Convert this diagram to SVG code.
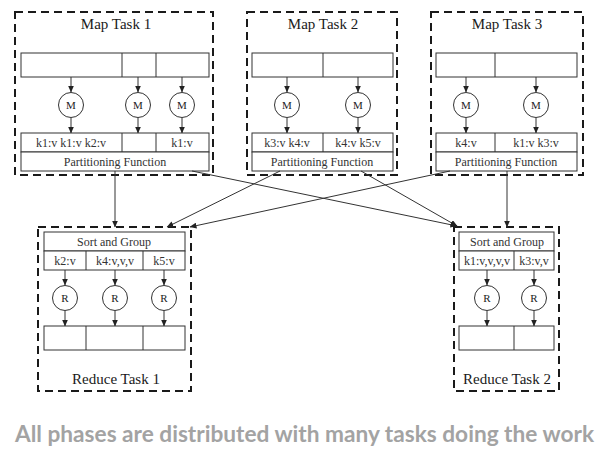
<svg xmlns="http://www.w3.org/2000/svg" width="607" height="455" viewBox="0 0 607 455">
<style>
.dash{fill:none;stroke:#1a1a1a;stroke-width:2;stroke-dasharray:8 5}
.box{fill:#fff;stroke:#333;stroke-width:1}
.ln{fill:none;stroke:#333;stroke-width:1}
.arr{fill:none;stroke:#333;stroke-width:1;marker-end:url(#ah)}
.title{font-family:"Liberation Serif",serif;font-size:15px;fill:#1a1a1a;text-anchor:middle}
.sm{font-family:"Liberation Serif",serif;font-size:12px;fill:#333;text-anchor:middle}
.op{font-family:"Liberation Serif",serif;font-size:11px;fill:#222;text-anchor:middle}
.cap{font-family:Lato,"Open Sans",sans-serif;font-weight:bold;font-size:22px;fill:#a3a3a3}
</style>
<defs>
<marker id="ah" markerWidth="7" markerHeight="6" refX="6.5" refY="3" orient="auto" markerUnits="userSpaceOnUse">
<path d="M0,0 L7,3 L0,6 Z" fill="#222"/>
</marker>
</defs>
<rect width="607" height="455" fill="#fff"/>

<g id="map1">
<rect class="dash" x="15" y="12" width="198" height="163"/>
<text class="title" x="116" y="29">Map Task 1</text>
<rect class="box" x="21" y="53" width="188" height="24"/>
<line class="ln" x1="122" y1="53" x2="122" y2="77"/>
<line class="ln" x1="156" y1="53" x2="156" y2="77"/>
<line class="arr" x1="71" y1="77" x2="71" y2="92"/>
<line class="arr" x1="138" y1="77" x2="138" y2="92"/>
<line class="arr" x1="182" y1="77" x2="182" y2="92"/>
<circle class="box" cx="71" cy="105" r="12.5"/>
<circle class="box" cx="138" cy="105" r="12.5"/>
<circle class="box" cx="182" cy="105" r="12.5"/>
<text class="op" x="71" y="109">M</text>
<text class="op" x="138" y="109">M</text>
<text class="op" x="182" y="109">M</text>
<line class="arr" x1="71" y1="118" x2="71" y2="133"/>
<line class="arr" x1="138" y1="118" x2="138" y2="133"/>
<line class="arr" x1="182" y1="118" x2="182" y2="133"/>
<rect class="box" x="21" y="133" width="188" height="19"/>
<line class="ln" x1="122" y1="133" x2="122" y2="152"/>
<line class="ln" x1="156" y1="133" x2="156" y2="152"/>
<text class="sm" x="71" y="147">k1:v k1:v k2:v</text>
<text class="sm" x="182" y="147">k1:v</text>
<rect class="box" x="21" y="152" width="188" height="19"/>
<text class="sm" x="115" y="166">Partitioning Function</text>
</g>

<g id="map2">
<rect class="dash" x="247" y="12" width="150" height="163"/>
<text class="title" x="323" y="29">Map Task 2</text>
<rect class="box" x="252" y="53" width="141" height="24"/>
<line class="ln" x1="323" y1="53" x2="323" y2="77"/>
<line class="arr" x1="287" y1="77" x2="287" y2="92"/>
<line class="arr" x1="358" y1="77" x2="358" y2="92"/>
<circle class="box" cx="287" cy="105" r="12.5"/>
<circle class="box" cx="358" cy="105" r="12.5"/>
<text class="op" x="287" y="109">M</text>
<text class="op" x="358" y="109">M</text>
<line class="arr" x1="287" y1="118" x2="287" y2="133"/>
<line class="arr" x1="358" y1="118" x2="358" y2="133"/>
<rect class="box" x="252" y="133" width="141" height="19"/>
<line class="ln" x1="323" y1="133" x2="323" y2="152"/>
<text class="sm" x="287" y="147">k3:v k4:v</text>
<text class="sm" x="358" y="147">k4:v k5:v</text>
<rect class="box" x="252" y="152" width="141" height="19"/>
<text class="sm" x="322" y="166">Partitioning Function</text>
</g>

<g id="map3">
<rect class="dash" x="431" y="12" width="152" height="163"/>
<text class="title" x="507" y="29">Map Task 3</text>
<rect class="box" x="436" y="53" width="141" height="24"/>
<line class="ln" x1="495" y1="53" x2="495" y2="77"/>
<line class="arr" x1="466" y1="77" x2="466" y2="92"/>
<line class="arr" x1="536" y1="77" x2="536" y2="92"/>
<circle class="box" cx="466" cy="105" r="12.5"/>
<circle class="box" cx="536" cy="105" r="12.5"/>
<text class="op" x="466" y="109">M</text>
<text class="op" x="536" y="109">M</text>
<line class="arr" x1="466" y1="118" x2="466" y2="133"/>
<line class="arr" x1="536" y1="118" x2="536" y2="133"/>
<rect class="box" x="436" y="133" width="141" height="19"/>
<line class="ln" x1="495" y1="133" x2="495" y2="152"/>
<text class="sm" x="466" y="147">k4:v</text>
<text class="sm" x="536" y="147">k1:v k3:v</text>
<rect class="box" x="436" y="152" width="141" height="19"/>
<text class="sm" x="506" y="166">Partitioning Function</text>
</g>

<g id="reduce1">
<rect class="dash" x="38" y="227" width="153" height="164"/>
<rect class="box" x="44" y="232" width="141" height="19"/>
<text class="sm" x="114" y="246">Sort and Group</text>
<rect class="box" x="44" y="251" width="141" height="19"/>
<line class="ln" x1="86" y1="251" x2="86" y2="270"/>
<line class="ln" x1="143" y1="251" x2="143" y2="270"/>
<text class="sm" x="65" y="265">k2:v</text>
<text class="sm" x="115" y="265">k4:v,v,v</text>
<text class="sm" x="164" y="265">k5:v</text>
<line class="arr" x1="65" y1="270" x2="65" y2="285"/>
<line class="arr" x1="115" y1="270" x2="115" y2="285"/>
<line class="arr" x1="164" y1="270" x2="164" y2="285"/>
<circle class="box" cx="65" cy="298" r="12.5"/>
<circle class="box" cx="115" cy="298" r="12.5"/>
<circle class="box" cx="164" cy="298" r="12.5"/>
<text class="op" x="65" y="302">R</text>
<text class="op" x="115" y="302">R</text>
<text class="op" x="164" y="302">R</text>
<line class="arr" x1="65" y1="311" x2="65" y2="326"/>
<line class="arr" x1="115" y1="311" x2="115" y2="326"/>
<line class="arr" x1="164" y1="311" x2="164" y2="326"/>
<rect class="box" x="44" y="326" width="141" height="24"/>
<line class="ln" x1="86" y1="326" x2="86" y2="350"/>
<line class="ln" x1="143" y1="326" x2="143" y2="350"/>
<text class="title" x="116" y="384">Reduce Task 1</text>
</g>

<g id="reduce2">
<rect class="dash" x="454" y="227" width="105" height="164"/>
<rect class="box" x="459" y="232" width="95" height="19"/>
<text class="sm" x="507" y="246">Sort and Group</text>
<rect class="box" x="459" y="251" width="95" height="19"/>
<line class="ln" x1="514" y1="251" x2="514" y2="270"/>
<text class="sm" x="487" y="265">k1:v,v,v,v</text>
<text class="sm" x="534" y="265">k3:v,v</text>
<line class="arr" x1="487" y1="270" x2="487" y2="285"/>
<line class="arr" x1="534" y1="270" x2="534" y2="285"/>
<circle class="box" cx="487" cy="298" r="12.5"/>
<circle class="box" cx="534" cy="298" r="12.5"/>
<text class="op" x="487" y="302">R</text>
<text class="op" x="534" y="302">R</text>
<line class="arr" x1="487" y1="311" x2="487" y2="326"/>
<line class="arr" x1="534" y1="311" x2="534" y2="326"/>
<rect class="box" x="459" y="326" width="95" height="24"/>
<line class="ln" x1="514" y1="326" x2="514" y2="350"/>
<text class="title" x="507" y="384">Reduce Task 2</text>
</g>

<g id="connectors">
<line class="arr" x1="115" y1="171" x2="115" y2="227"/>
<line class="arr" x1="192" y1="171" x2="457" y2="226"/>
<line class="arr" x1="280" y1="171" x2="167" y2="227"/>
<line class="arr" x1="361" y1="171" x2="457" y2="226"/>
<line class="arr" x1="450" y1="171" x2="190" y2="227"/>
<line class="arr" x1="507" y1="171" x2="507" y2="227"/>
</g>

<text class="cap" x="15" y="442" textLength="579" lengthAdjust="spacingAndGlyphs">All phases are distributed with many tasks doing the work</text>
</svg>
